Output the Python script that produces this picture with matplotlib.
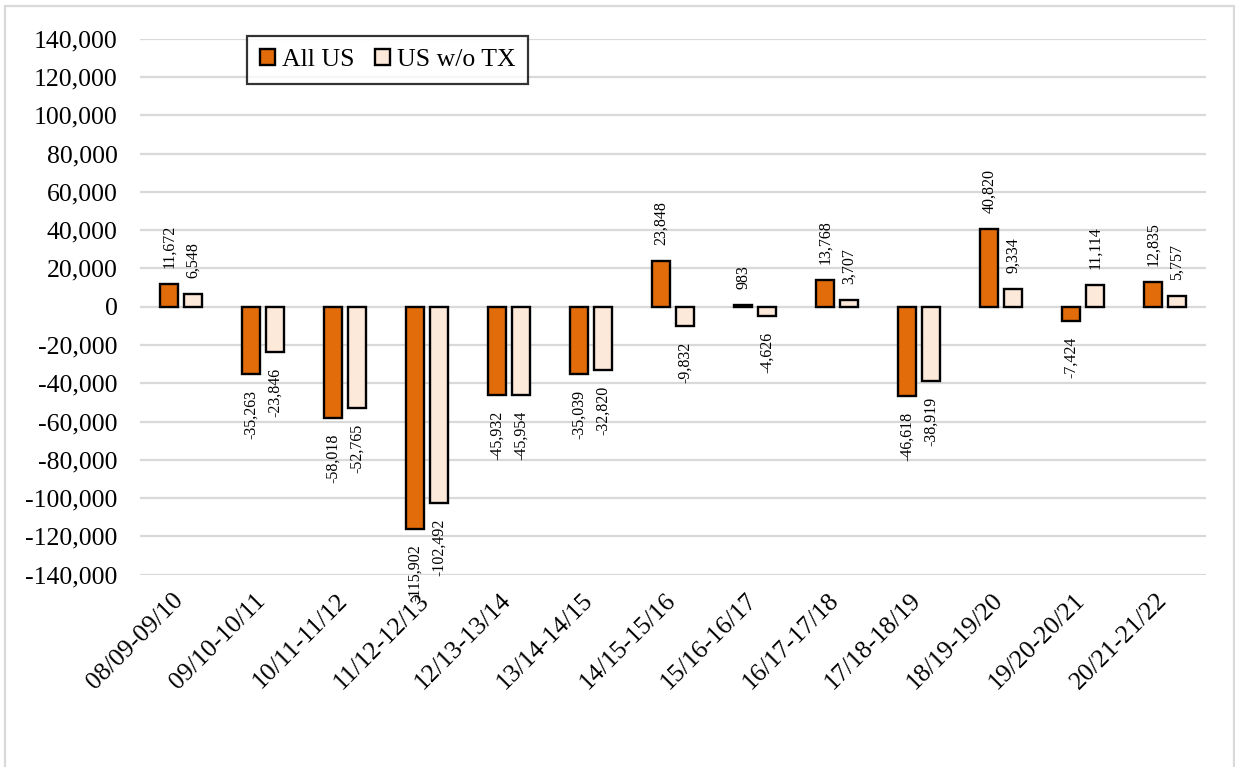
import matplotlib
matplotlib.use("Agg")
import matplotlib.pyplot as plt
from matplotlib.patches import Rectangle
from matplotlib.ticker import FuncFormatter, MultipleLocator
from matplotlib.transforms import ScaledTranslation
import numpy as np

# Year-over-year change, by period
periods = ["08/09-09/10", "09/10-10/11", "10/11-11/12", "11/12-12/13",
           "12/13-13/14", "13/14-14/15", "14/15-15/16", "15/16-16/17",
           "16/17-17/18", "17/18-18/19", "18/19-19/20", "19/20-20/21",
           "20/21-21/22"]
all_us = [11672, -35263, -58018, -115902, -45932, -35039, 23848, 983,
          13768, -46618, 40820, -7424, 12835]
us_wo_tx = [6548, -23846, -52765, -102492, -45954, -32820, -9832, -4626,
            3707, -38919, 9334, 11114, 5757]

series_names = ["All US", "US w/o TX"]
series_colors = ["#E36C0A", "#FDE9D9"]

plt.rcParams["font.family"] = ["Liberation Serif", "DejaVu Serif"]

W, H = 1235, 767
fig = plt.figure(figsize=(W / 100, H / 100), dpi=100)
ax = fig.add_axes([140 / W, 1 - 574.7 / H, (1206 - 140) / W, (574.7 - 38.7) / H])

x = np.arange(len(periods))
width = 0.225
offset = 0.145

for vals, off, color, name in zip([all_us, us_wo_tx], [-offset, offset],
                                  series_colors, series_names):
    bars = ax.bar(x + off, vals, width=width, color=color, edgecolor="black",
                  linewidth=1.7, label=name, zorder=3)
    for rect, v in zip(bars, vals):
        cx = rect.get_x() + rect.get_width() / 2
        ax.annotate(f"{v:,}", xy=(cx, v), xytext=(0, 11.5 if v >= 0 else -11.5),
                    textcoords="offset points", rotation=90, ha="center",
                    va="bottom" if v >= 0 else "top", fontsize=11.5)

ax.set_xlim(-0.5, len(periods) - 0.5)
ax.set_ylim(-140000, 140000)
ax.yaxis.set_major_locator(MultipleLocator(20000))
ax.yaxis.set_major_formatter(FuncFormatter(lambda v, _: f"{v:,.0f}"))
ax.grid(axis="y", color="#D9D9D9", linewidth=1.6, zorder=0)
ax.set_axisbelow(True)
for s in ax.spines.values():
    s.set_visible(False)

ax.set_xticks(x)
ax.set_xticklabels(periods, rotation=45, ha="right", rotation_mode="anchor",
                   fontsize=18.5)
ax.tick_params(axis="x", length=0, pad=12)
ax.tick_params(axis="y", length=0, pad=16, labelsize=18.5)
shift = ScaledTranslation(-9 / 100, 2 / 100, fig.dpi_scale_trans)
for lbl in ax.get_xticklabels():
    lbl.set_transform(lbl.get_transform() + shift)

leg = ax.legend(loc="upper left", bbox_to_anchor=(247 / W, 1 - 36 / H),
                bbox_transform=fig.transFigure, ncol=2, fontsize=18.5,
                frameon=True, fancybox=False, handlelength=0.6,
                handleheight=0.6, handletextpad=0.25, columnspacing=0.8,
                borderpad=0.5, borderaxespad=0)
leg.get_frame().set_edgecolor("black")
leg.get_frame().set_linewidth(1.6)

fig.add_artist(Rectangle((5 / W, -0.05), (1234 - 5) / W, 1 - 6 / H + 0.05,
                         transform=fig.transFigure, fill=False,
                         edgecolor="#D9D9D9", linewidth=1.6))

fig.savefig("out.png", dpi=100)
